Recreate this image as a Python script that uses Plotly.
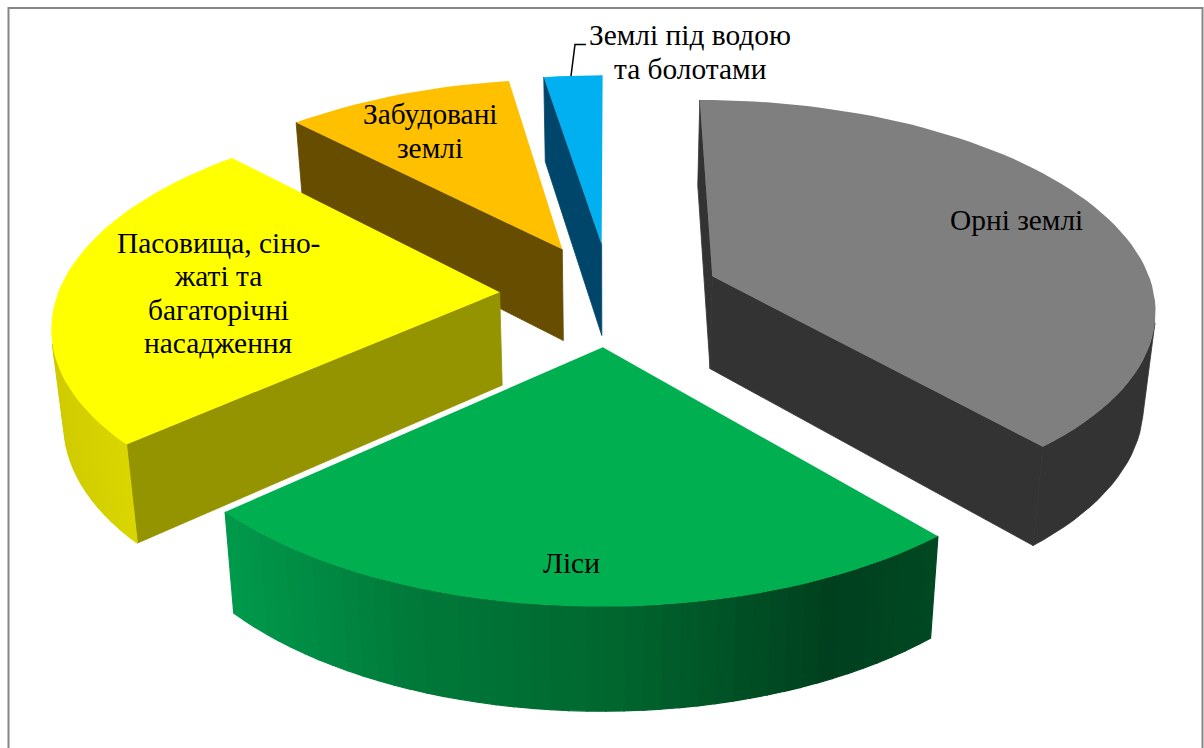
import math
import plotly.graph_objects as go

# ---- data (shares of land, %) ----
categories = ["Орні землі", "Ліси", "Пасовища, сіно-<br>жаті та<br>багаторічні<br>насадження",
              "Забудовані<br>землі", "Землі під водою<br>та болотами"]
values = [38.7, 24.6, 24.5, 9.7, 2.5]

# ---- styles ----
top_colors = ["#7f7f7f", "#00b050", "#ffff00", "#ffc000", "#00b0f0"]
side_colors = ["#333333", "#00592c", "#949400", "#664d00", "#00466a"]
label_xy = [(1016, 220), (571, 563), (218, 293), (430, 131), (690, 52)]
LINE_STEP = 33.6

# ---- projection of the tilted, exploded pie ----
CX, CY = 610.0, 294.0
R, RY = 442.0, 206.0
K = 0.1415        # perspective strength
EXPLODE = 0.25
H = 93.0          # thickness
M = 0.0225        # convergence of vertical edges


def project(X, Y, bottom=False):
    s = 1.0 / (1.0 - K * Y)
    sx = CX + R * X * s
    sy = CY + RY * Y * s
    if bottom:
        sx = CX + (sx - CX) * (1 - M)
        sy += H * s ** 0.6
    return sx, sy


def hex_mix(stops, t):
    t = max(0.0, min(1.0, t))
    for (t0, c0), (t1, c1) in zip(stops, stops[1:]):
        if t <= t1:
            f = (t - t0) / (t1 - t0) if t1 > t0 else 0
            a = [int(c0[i:i + 2], 16) for i in (1, 3, 5)]
            b = [int(c1[i:i + 2], 16) for i in (1, 3, 5)]
            return "rgb(%d,%d,%d)" % tuple(round(p + (q - p) * f) for p, q in zip(a, b))
    return stops[-1][1]


GREEN_WALL = [(0.0, "#009a4c"), (0.25, "#007a3a"), (0.55, "#00662e"), (0.85, "#00401e"), (1.0, "#004822")]
YELLOW_WALL = [(0.0, "#cfcb00"), (0.5, "#dcd800"), (1.0, "#e8e400")]


def poly(fig, pts, color, lw=0.0):
    xs = [p[0] for p in pts] + [pts[0][0]]
    ys = [p[1] for p in pts] + [pts[0][1]]
    fig.add_trace(go.Scatter(x=xs, y=ys, mode="lines", fill="toself", fillcolor=color,
                             line=dict(color=color, width=lw), hoverinfo="skip", showlegend=False))


def area(pts):
    return sum(pts[i][0] * pts[(i + 1) % len(pts)][1] - pts[(i + 1) % len(pts)][0] * pts[i][1]
               for i in range(len(pts)))


fig = go.Figure()
total = sum(values)
angles = [0.0]
for v in values:
    angles.append(angles[-1] + 360.0 * v / total)

for idx in [4, 3, 0, 2, 1]:
    a0, a1 = angles[idx], angles[idx + 1]
    mid = math.radians((a0 + a1) / 2)
    ox, oy = EXPLODE * math.sin(mid), -EXPLODE * math.cos(mid)
    n = max(2, int((a1 - a0) / 2))
    ang = [a0 + (a1 - a0) * i / n for i in range(n + 1)]
    world = [(ox + math.sin(math.radians(a)), oy - math.cos(math.radians(a))) for a in ang]
    tops = [project(*w) for w in world]
    bots = [project(*w, bottom=True) for w in world]
    apex_t, apex_b = project(ox, oy), project(ox, oy, bottom=True)

    # radial walls turned towards the viewer
    for q in ([apex_t, tops[0], bots[0], apex_b], [tops[-1], apex_t, apex_b, bots[-1]]):
        if area(q) < -500:
            poly(fig, q, side_colors[idx], 0.8)

    # outer wall
    xmin, xmax = min(t[0] for t in tops), max(t[0] for t in tops)
    if idx in (1, 2):
        for i in range(n):
            quad = [tops[i], tops[i + 1], bots[i + 1], bots[i]]
            if area(quad) >= 0:
                continue
            t = ((tops[i][0] + tops[i + 1][0]) / 2 - xmin) / (xmax - xmin)
            poly(fig, quad, hex_mix(GREEN_WALL if idx == 1 else YELLOW_WALL, t), 1.2)
    else:
        front = [i for i in range(n) if area([tops[i], tops[i + 1], bots[i + 1], bots[i]]) < 0]
        if front:
            ids = front + [front[-1] + 1]
            poly(fig, [tops[i] for i in ids] + [bots[i] for i in reversed(ids)], side_colors[idx], 0.8)

    # top face
    poly(fig, [apex_t] + tops, top_colors[idx], 0.0)

annotations = []
for text, (x, y) in zip(categories, label_xy):
    lines = text.split("<br>")
    for j, line in enumerate(lines):
        annotations.append(dict(x=x, y=y + (j - (len(lines) - 1) / 2) * LINE_STEP, text=line, showarrow=False,
                                xanchor="center", yanchor="middle",
                                font=dict(family="Liberation Serif", size=29.4, color="#000000")))

shapes = [
    dict(type="path", path="M 8.5 760 L 8.5 8 L 1202.5 8 L 1202.5 760",
         line=dict(color="#868686", width=2), layer="below"),
    dict(type="path", path="M 571 76 L 575 44.5 L 586 44.5", line=dict(color="#000000", width=1.5)),
]

fig.update_layout(
    width=1204, height=748, margin=dict(l=0, r=0, t=0, b=0),
    paper_bgcolor="#ffffff", plot_bgcolor="#ffffff", showlegend=False,
    xaxis=dict(range=[0, 1204], visible=False, fixedrange=True),
    yaxis=dict(range=[748, 0], visible=False, fixedrange=True),
    annotations=annotations, shapes=shapes,
)
fig.write_html("out.html", config={"displayModeBar": False},
               post_script="document.body.style.margin='0';document.documentElement.style.overflow='hidden';")
